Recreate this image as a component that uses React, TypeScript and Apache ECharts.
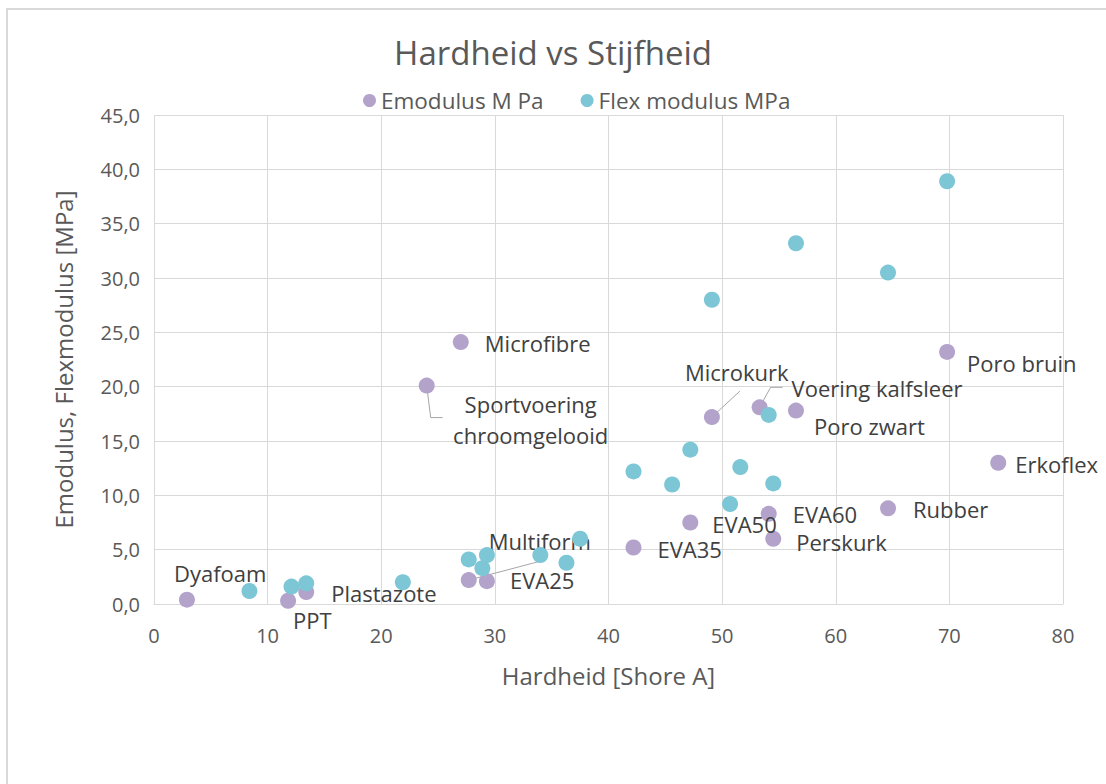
import React, { useEffect, useRef } from "react";
import * as echarts from "echarts";

// ---- data ----
const materialNames = [
  "Dyafoam", "PPT", "Plastazote", "Multiform", "EVA25", "Sportvoering\nchroomgelooid",
  "Microfibre", "EVA35", "EVA50", "Microkurk", "Voering kalfsleer", "EVA60",
  "Perskurk", "Poro zwart", "Rubber", "Poro bruin", "Erkoflex",
];
const emodHardness = [2.9, 11.8, 13.4, 27.7, 29.3, 24.0, 27.0, 42.2, 47.2, 49.1, 53.3, 54.1, 54.5, 56.5, 64.6, 69.8, 74.3];
const emodValues = [0.4, 0.3, 1.1, 2.2, 2.1, 20.1, 24.1, 5.2, 7.5, 17.2, 18.1, 8.3, 6.0, 17.8, 8.8, 23.2, 13.0];

const flexHardness = [8.4, 12.1, 13.4, 21.9, 27.7, 28.9, 29.3, 34.0, 36.3, 37.5, 42.2, 45.6, 47.2, 49.1, 50.7, 51.6, 54.1, 54.5, 56.5, 64.6, 69.8];
const flexValues = [1.2, 1.6, 1.9, 2.0, 4.1, 3.3, 4.5, 4.5, 3.8, 6.0, 12.2, 11.0, 14.2, 28.0, 9.2, 12.6, 17.4, 11.1, 33.2, 30.5, 38.9];

const seriesNames = ["Emodulus M Pa", "Flex modulus MPa"];
const xTicks = { min: 0, max: 80, interval: 10 };
const yTicks = { min: 0, max: 45, interval: 5 };

// ---- label placement (pixel offsets from point centre to text anchor) ----
type Place = { dx: number; dy: number; align?: string; leader?: number[][] };
const labelPlacement: Place[] = [
  { dx: -13, dy: -27 },
  { dx: 5, dy: 19 },
  { dx: 25, dy: 1 },
  { dx: 20, dy: -39, leader: [[72, -19]] },
  { dx: 23, dy: -1 },
  { dx: 104, dy: 34, align: "center", leader: [[4, 32], [16, 32]] },
  { dx: 24, dy: 1 },
  { dx: 24, dy: 2 },
  { dx: 22, dy: 1 },
  { dx: -27, dy: -45, leader: [[28, -26]] },
  { dx: 32, dy: -19, leader: [[11, -20], [23, -20]] },
  { dx: 24, dy: 0 },
  { dx: 23, dy: 3 },
  { dx: 18, dy: 15 },
  { dx: 25, dy: 1 },
  { dx: 20, dy: 11 },
  { dx: 17, dy: 1 },
];

const PURPLE = "#b3a3cb";
const TEAL = "#7cc6d6";
const FONT = "'Open Sans'";

export default function App() {
  const ref = useRef<HTMLDivElement>(null);
  useEffect(() => {
    if (!ref.current) return;
    const chart = echarts.init(ref.current, null, { renderer: "svg" });
    const emodData = emodHardness.map((h, i) => {
      const p = labelPlacement[i];
      return {
        value: [h, emodValues[i]],
        name: materialNames[i],
        label: p.align ? { align: p.align, lineHeight: 31 } : undefined,
      };
    });
    const leaderData = emodHardness
      .map((h, i) => [h, emodValues[i], i])
      .filter((d) => !!labelPlacement[d[2]].leader);
    const flexData = flexHardness.map((h, i) => [h, flexValues[i]]);
    chart.setOption({
      animation: false,
      backgroundColor: "#ffffff",
      textStyle: { fontFamily: FONT },
      title: {
        text: "Hardheid vs Stijfheid",
        left: "center",
        top: 31,
        textStyle: { fontFamily: FONT, fontSize: 33, fontWeight: "normal", color: "#595959" },
      },
      legend: {
        data: seriesNames,
        top: 84,
        left: 358,
        icon: "circle",
        itemWidth: 13,
        itemHeight: 13,
        itemGap: 37,
        textStyle: { fontFamily: FONT, fontSize: 22.5, color: "#595959" },
      },
      graphic: [
        {
          type: "rect",
          shape: { x: 7, y: 9, width: 1120, height: 800 },
          style: { fill: "none", stroke: "#d9d9d9", lineWidth: 2 },
          silent: true,
        },
      ],
      grid: { left: 154, right: 43, top: 115, bottom: 180, containLabel: false },
      xAxis: {
        type: "value",
        min: xTicks.min,
        max: xTicks.max,
        interval: xTicks.interval,
        name: "Hardheid [Shore A]",
        nameLocation: "middle",
        nameGap: 59,
        nameTextStyle: { fontFamily: FONT, fontSize: 24, color: "#595959" },
        axisLine: { show: true, lineStyle: { color: "#d9d9d9", width: 1 } },
        axisTick: { show: false },
        axisLabel: { margin: 21, fontFamily: FONT, fontSize: 20, color: "#595959" },
        splitLine: { show: true, lineStyle: { color: "#d9d9d9", width: 1 } },
      },
      yAxis: {
        type: "value",
        min: yTicks.min,
        max: yTicks.max,
        interval: yTicks.interval,
        name: "Emodulus, Flexmodulus [MPa]",
        nameLocation: "middle",
        nameGap: 79,
        nameRotate: 90,
        nameTextStyle: { fontFamily: FONT, fontSize: 24, color: "#595959" },
        axisLine: { show: false },
        axisTick: { show: false },
        axisLabel: {
          margin: 14,
          fontFamily: FONT,
          fontSize: 20,
          color: "#595959",
          formatter: (v: number) => v.toFixed(1).replace(".", ","),
        },
        splitLine: { show: true, lineStyle: { color: "#d9d9d9", width: 1 } },
      },
      series: [
        {
          type: "custom",
          silent: true,
          z: 2,
          data: leaderData,
          renderItem: (params: any, api: any) => {
            const idx = api.value(2);
            const [cx, cy] = api.coord([api.value(0), api.value(1)]);
            const pts = [[cx, cy]].concat(
              labelPlacement[idx].leader!.map((o) => [cx + o[0], cy + o[1]])
            );
            return {
              type: "polyline",
              shape: { points: pts },
              style: { stroke: "#a6a6a6", lineWidth: 1, fill: "none" },
            };
          },
        },
        {
          name: seriesNames[0],
          type: "scatter",
          symbol: "circle",
          symbolSize: 16,
          itemStyle: { color: PURPLE, opacity: 1 },
          data: emodData,
          z: 3,
          label: {
            show: true,
            position: "inside",
            align: "left",
            verticalAlign: "middle",
            lineHeight: 22,
            formatter: (p: any) => p.name,
            fontFamily: FONT,
            fontSize: 22,
            color: "#404040",
          },
          labelLayout: (params: any) => {
            const p = labelPlacement[params.dataIndex];
            return p ? { dx: p.dx, dy: p.dy } : {};
          },
        },
        {
          name: seriesNames[1],
          type: "scatter",
          symbol: "circle",
          symbolSize: 16,
          itemStyle: { color: TEAL, opacity: 1 },
          data: flexData,
          z: 4,
        },
      ],
    });
    return () => chart.dispose();
  }, []);
  return (
    <div
      ref={ref}
      style={{ position: "fixed", left: 0, top: 0, width: 1106, height: 784, background: "#fff" }}
    />
  );
}
